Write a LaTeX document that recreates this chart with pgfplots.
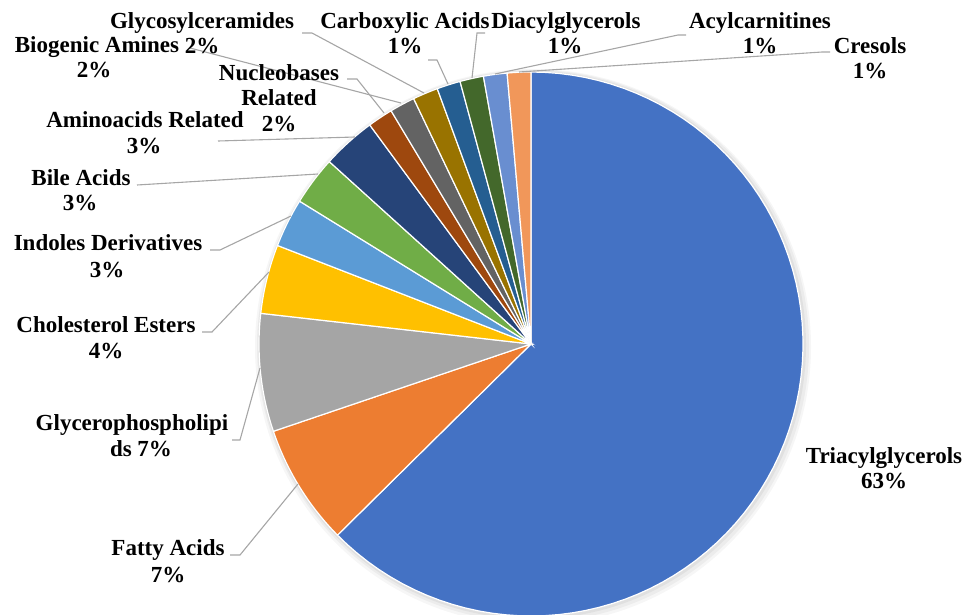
\documentclass[border=0pt]{standalone}
\usepackage{pgfplots}
\usepackage{pgfplotstable}
\pgfplotsset{compat=1.18}
\usepackage{fontspec}
\setmainfont{Liberation Serif}

% Office palette
\definecolor{c1}{HTML}{4472C4}
\definecolor{c2}{HTML}{ED7D31}
\definecolor{c3}{HTML}{A5A5A5}
\definecolor{c4}{HTML}{FFC000}
\definecolor{c5}{HTML}{5B9BD5}
\definecolor{c6}{HTML}{70AD47}
\definecolor{c7}{HTML}{264478}
\definecolor{c8}{HTML}{9E480E}
\definecolor{c9}{HTML}{636363}
\definecolor{c10}{HTML}{997300}
\definecolor{c11}{HTML}{255E91}
\definecolor{c12}{HTML}{43682B}
\definecolor{c13}{HTML}{698ED0}
\definecolor{c14}{HTML}{F1975A}
\definecolor{leader}{HTML}{A6A6A6}

% share of each class (percent), clockwise from 12 o'clock
\pgfplotstableread{
name            value  color
Triacylglycerols 62.6  c1
FattyAcids       7.2   c2
Glycerophosph    7.0   c3
Cholesterol      4.1   c4
Indoles          2.9   c5
BileAcids        2.9   c6
Aminoacids       3.2   c7
Nucleobases      1.5   c8
BiogenicAmines   1.5   c9
Glycosylcer      1.5   c10
Carboxylic       1.4   c11
Diacylglycerols  1.4   c12
Acylcarnitines   1.4   c13
Cresols          1.4   c14
}\piedata

\begin{document}
\begin{tikzpicture}[
  lbl/.style={anchor=base, inner sep=0pt, font=\fontsize{23}{26}\selectfont\bfseries},
  ld/.style={leader, line width=1.1pt}]
\begin{axis}[
  hide axis, scale only axis, clip=false,
  width=966pt, height=614pt,
  xmin=0, xmax=966, ymin=0, ymax=614, y dir=reverse]
\coordinate (TL) at (axis cs:0,0);
\coordinate (BR) at (axis cs:966,614);

% soft shadow round the pie
\fill[black, opacity=0.035] (axis cs:533,347) circle[radius=278pt];
\fill[black, opacity=0.04] (axis cs:533,346) circle[radius=276pt];
\fill[black, opacity=0.05] (axis cs:532,345) circle[radius=274pt];

\pgfmathsetmacro\cum{0}
\pgfplotsforeachungrouped \i in {0,...,13}{%
  \pgfplotstablegetelem{\i}{value}\of\piedata \let\v=\pgfplotsretval
  \pgfplotstablegetelem{\i}{color}\of\piedata \let\col=\pgfplotsretval
  \pgfmathsetmacro\a{\cum*3.6}%
  \pgfmathsetmacro\cum{\cum+\v}%
  \pgfmathsetmacro\b{\cum*3.6}%
  \edef\slice{\noexpand\addplot[draw=white, line width=1.2pt, fill=\col,
     domain=\a:\b, samples=80, variable=\noexpand\t]
     ({531+272*sin(\noexpand\t)},{344-272*cos(\noexpand\t)}) -- (axis cs:531,344) -- cycle;}%
  \slice
}

% leader lines
\draw[ld] (axis cs:230,555) -- (axis cs:240,555) -- (axis cs:298,484);
\draw[ld] (axis cs:232,440) -- (axis cs:240,440) -- (axis cs:260,368);
\draw[ld] (axis cs:202,332) -- (axis cs:212,332) -- (axis cs:269,272);
\draw[ld] (axis cs:210,250) -- (axis cs:220,250) -- (axis cs:291,216);
\draw[ld] (axis cs:137,185) -- (axis cs:318,174);
\draw[ld] (axis cs:218,141) -- (axis cs:355,137);
\draw[ld] (axis cs:347,79) -- (axis cs:357,79) -- (axis cs:384,113);
\draw[ld] (axis cs:190,48) -- (axis cs:401,103);
\draw[ld] (axis cs:302,33) -- (axis cs:312,33) -- (axis cs:424,93);
\draw[ld] (axis cs:428,60) -- (axis cs:437,60) -- (axis cs:448,84);
\draw[ld] (axis cs:485,33) -- (axis cs:477,33) -- (axis cs:472,78);
\draw[ld] (axis cs:686,35) -- (axis cs:678,35) -- (axis cs:495,74);
\draw[ld] (axis cs:830,52) -- (axis cs:822,52) -- (axis cs:519,72);

% labels
\node[lbl] at (axis cs:884,463) {Triacylglycerols};
\node[lbl] at (axis cs:884,488) {63\%};
\node[lbl] at (axis cs:168,555) {Fatty Acids};
\node[lbl] at (axis cs:168,582) {7\%};
\node[lbl] at (axis cs:132,430) {Glycerophospholipi};
\node[lbl] at (axis cs:141,456) {ds 7\%};
\node[lbl] at (axis cs:106,332) {Cholesterol Esters};
\node[lbl] at (axis cs:106,358) {4\%};
\node[lbl] at (axis cs:108,250) {Indoles Derivatives};
\node[lbl] at (axis cs:107,277) {3\%};
\node[lbl] at (axis cs:81,185) {Bile Acids};
\node[lbl] at (axis cs:80,210) {3\%};
\node[lbl] at (axis cs:145,127) {Aminoacids Related};
\node[lbl] at (axis cs:144,153) {3\%};
\node[lbl] at (axis cs:279,80) {Nucleobases};
\node[lbl] at (axis cs:279,105) {Related};
\node[lbl] at (axis cs:279,131) {2\%};
\node[lbl] at (axis cs:97,52) {Biogenic Amines};
\node[lbl] at (axis cs:94,77) {2\%};
\node[lbl] at (axis cs:202,28) {Glycosylceramides};
\node[lbl] at (axis cs:202,53) {2\%};
\node[lbl] at (axis cs:405,28) {Carboxylic Acids};
\node[lbl] at (axis cs:405,53) {1\%};
\node[lbl] at (axis cs:566,28) {Diacylglycerols};
\node[lbl] at (axis cs:565,53) {1\%};
\node[lbl] at (axis cs:760,28) {Acylcarnitines};
\node[lbl] at (axis cs:760,53) {1\%};
\node[lbl] at (axis cs:870,53) {Cresols};
\node[lbl] at (axis cs:870,78) {1\%};
\end{axis}
\pgfresetboundingbox
\path[use as bounding box] (TL) rectangle (BR);
\end{tikzpicture}
\end{document}
